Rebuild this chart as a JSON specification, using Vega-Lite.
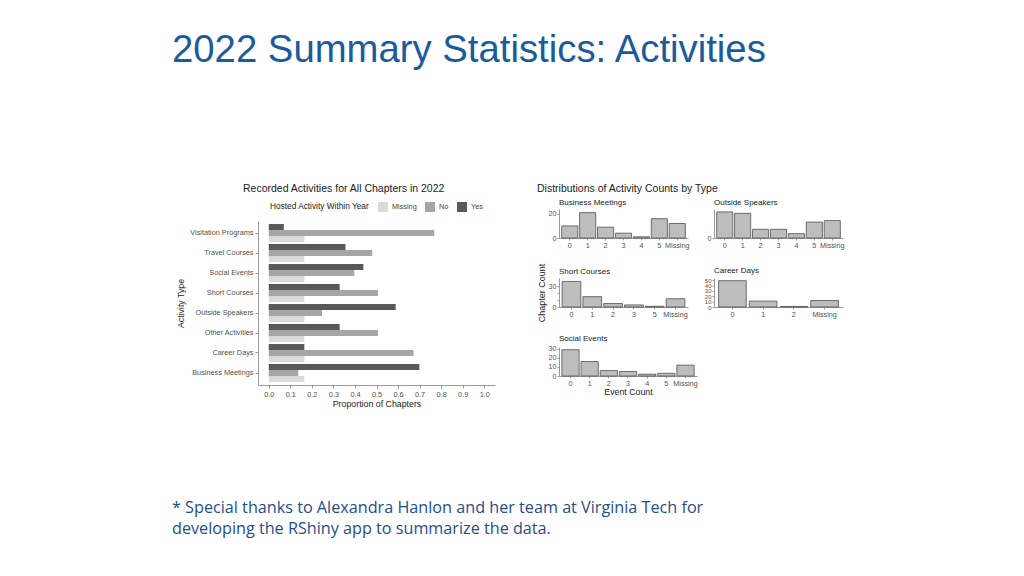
{
  "$schema": "https://vega.github.io/schema/vega-lite/v6.json",
  "background": "white",
  "padding": {"left": 172, "top": 31, "right": 5, "bottom": 5},
  "title": {"text": "2022 Summary Statistics: Activities", "anchor": "start", "frame": "bounds", "fontSize": 38.3, "fontWeight": "normal", "font": "Liberation Sans", "color": "#1a5b9c", "offset": 113},
  "datasets": {
    "props": [
      {"activity": "Visitation Programs", "response": "Yes", "proportion": 0.070},
      {"activity": "Visitation Programs", "response": "No", "proportion": 0.768},
      {"activity": "Visitation Programs", "response": "Missing", "proportion": 0.165},
      {"activity": "Travel Courses", "response": "Yes", "proportion": 0.356},
      {"activity": "Travel Courses", "response": "No", "proportion": 0.480},
      {"activity": "Travel Courses", "response": "Missing", "proportion": 0.165},
      {"activity": "Social Events", "response": "Yes", "proportion": 0.439},
      {"activity": "Social Events", "response": "No", "proportion": 0.397},
      {"activity": "Social Events", "response": "Missing", "proportion": 0.165},
      {"activity": "Short Courses", "response": "Yes", "proportion": 0.329},
      {"activity": "Short Courses", "response": "No", "proportion": 0.507},
      {"activity": "Short Courses", "response": "Missing", "proportion": 0.165},
      {"activity": "Outside Speakers", "response": "Yes", "proportion": 0.589},
      {"activity": "Outside Speakers", "response": "No", "proportion": 0.247},
      {"activity": "Outside Speakers", "response": "Missing", "proportion": 0.165},
      {"activity": "Other Activities", "response": "Yes", "proportion": 0.329},
      {"activity": "Other Activities", "response": "No", "proportion": 0.507},
      {"activity": "Other Activities", "response": "Missing", "proportion": 0.165},
      {"activity": "Career Days", "response": "Yes", "proportion": 0.165},
      {"activity": "Career Days", "response": "No", "proportion": 0.672},
      {"activity": "Career Days", "response": "Missing", "proportion": 0.165},
      {"activity": "Business Meetings", "response": "Yes", "proportion": 0.699},
      {"activity": "Business Meetings", "response": "No", "proportion": 0.137},
      {"activity": "Business Meetings", "response": "Missing", "proportion": 0.165}
    ],
    "hist": [
      {"activity": "Business Meetings", "count": "0", "chapters": 10},
      {"activity": "Business Meetings", "count": "1", "chapters": 21},
      {"activity": "Business Meetings", "count": "2", "chapters": 9},
      {"activity": "Business Meetings", "count": "3", "chapters": 4},
      {"activity": "Business Meetings", "count": "4", "chapters": 1},
      {"activity": "Business Meetings", "count": "5", "chapters": 16},
      {"activity": "Business Meetings", "count": "Missing", "chapters": 12},
      {"activity": "Outside Speakers", "count": "0", "chapters": 18},
      {"activity": "Outside Speakers", "count": "1", "chapters": 17},
      {"activity": "Outside Speakers", "count": "2", "chapters": 6},
      {"activity": "Outside Speakers", "count": "3", "chapters": 6},
      {"activity": "Outside Speakers", "count": "4", "chapters": 3},
      {"activity": "Outside Speakers", "count": "5", "chapters": 11},
      {"activity": "Outside Speakers", "count": "Missing", "chapters": 12},
      {"activity": "Short Courses", "count": "0", "chapters": 37},
      {"activity": "Short Courses", "count": "1", "chapters": 15},
      {"activity": "Short Courses", "count": "2", "chapters": 5},
      {"activity": "Short Courses", "count": "3", "chapters": 3},
      {"activity": "Short Courses", "count": "5", "chapters": 1},
      {"activity": "Short Courses", "count": "Missing", "chapters": 12},
      {"activity": "Career Days", "count": "0", "chapters": 49},
      {"activity": "Career Days", "count": "1", "chapters": 11},
      {"activity": "Career Days", "count": "2", "chapters": 1},
      {"activity": "Career Days", "count": "Missing", "chapters": 12},
      {"activity": "Social Events", "count": "0", "chapters": 29},
      {"activity": "Social Events", "count": "1", "chapters": 16},
      {"activity": "Social Events", "count": "2", "chapters": 6},
      {"activity": "Social Events", "count": "3", "chapters": 5},
      {"activity": "Social Events", "count": "4", "chapters": 2},
      {"activity": "Social Events", "count": "5", "chapters": 3},
      {"activity": "Social Events", "count": "Missing", "chapters": 12}
    ]
  },
  "columns": 1,
  "spacing": 88,
  "concat": [
    {
      "columns": 2,
      "spacing": 42,
      "concat": [
        {
          "columns": 1,
          "spacing": 11,
          "concat": [
            {
              "width": 237,
              "height": 1,
              "data": {"name": "props"},
              "transform": [{"filter": "false"}],
              "title": {"text": "Recorded Activities for All Chapters in 2022", "anchor": "start", "frame": "bounds", "dx": -15, "fontSize": 10.5, "fontWeight": "normal", "color": "#1a1a1a", "offset": 15},
              "mark": {"type": "bar"},
              "encoding": {
                "color": {
                  "field": "response", "type": "nominal",
                  "scale": {"domain": ["Missing", "No", "Yes"], "range": ["#d9d9d9", "#a6a6a6", "#595959"]},
                  "legend": {"title": "Hosted Activity Within Year", "orient": "none", "legendX": 12, "legendY": -7, "direction": "horizontal", "titleOrient": "left", "titleFontSize": 8.3, "titleFontWeight": "normal", "titleColor": "#222222", "labelFontSize": 7.3, "labelColor": "#444444", "symbolType": "square", "symbolSize": 100, "symbolStrokeWidth": 0, "columnPadding": 8, "titlePadding": 8}
                }
              }
            },
            {
              "width": 237,
              "height": 164,
              "data": {"name": "props"},
              "mark": {"type": "bar"},
              "encoding": {
                "y": {"field": "activity", "type": "nominal", "sort": ["Visitation Programs", "Travel Courses", "Social Events", "Short Courses", "Outside Speakers", "Other Activities", "Career Days", "Business Meetings"], "scale": {"paddingInner": 0.1, "paddingOuter": 0.15}, "axis": {"title": "Activity Type", "titlePadding": 4, "labelFontSize": 7.3}},
                "yOffset": {"field": "response", "type": "nominal", "sort": ["Yes", "No", "Missing"]},
                "x": {"field": "proportion", "type": "quantitative", "scale": {"domain": [-0.05, 1.05], "nice": false, "zero": false}, "axis": {"title": "Proportion of Chapters", "values": [0, 0.1, 0.2, 0.3, 0.4, 0.5, 0.6, 0.7, 0.8, 0.9, 1.0], "format": ".1f", "titlePadding": 2, "labelFontSize": 7.3}},
                "x2": {"datum": 0},
                "color": {
                  "field": "response", "type": "nominal",
                  "scale": {"domain": ["Missing", "No", "Yes"], "range": ["#d9d9d9", "#a6a6a6", "#595959"]},
                  "legend": null
                }
              }
            }
          ]
        },
        {
          "title": {"text": "Distributions of Activity Counts by Type", "anchor": "start", "frame": "bounds", "fontSize": 10.5, "fontWeight": "normal", "color": "#1a1a1a", "offset": 5},
          "columns": 2,
          "bounds": "flush",
          "spacing": {"row": 40, "column": 17},
          "concat": [
            {
              "width": 129, "height": 29,
              "data": {"name": "hist"},
              "transform": [{"filter": "datum.activity === 'Business Meetings'"}],
              "title": {"text": "Business Meetings", "anchor": "start", "frame": "group", "fontSize": 8, "fontWeight": "normal", "color": "#222222", "offset": 2},
              "mark": {"type": "bar", "fill": "#bdbdbd", "stroke": "#505050", "strokeWidth": 0.8},
              "encoding": {
                "x": {"field": "count", "type": "nominal", "sort": ["0", "1", "2", "3", "4", "5", "Missing"], "scale": {"paddingInner": 0.1, "paddingOuter": 0.15}, "axis": {"title": null, "labelAngle": 0, "labelFontSize": 7.2, "tickSize": 2, "labelPadding": 1}},
                "y": {"field": "chapters", "type": "quantitative", "scale": {"domain": [0, 24], "nice": false}, "axis": {"title": null, "values": [0, 20], "labelFontSize": 7.2, "tickSize": 2, "labelPadding": 1}}
              }
            },
            {
              "width": 129, "height": 29,
              "data": {"name": "hist"},
              "transform": [{"filter": "datum.activity === 'Outside Speakers'"}],
              "title": {"text": "Outside Speakers", "anchor": "start", "frame": "group", "fontSize": 8, "fontWeight": "normal", "color": "#222222", "offset": 2},
              "mark": {"type": "bar", "fill": "#bdbdbd", "stroke": "#505050", "strokeWidth": 0.8},
              "encoding": {
                "x": {"field": "count", "type": "nominal", "sort": ["0", "1", "2", "3", "4", "5", "Missing"], "scale": {"paddingInner": 0.1, "paddingOuter": 0.15}, "axis": {"title": null, "labelAngle": 0, "labelFontSize": 7.2, "tickSize": 2, "labelPadding": 1}},
                "y": {"field": "chapters", "type": "quantitative", "scale": {"domain": [0, 20], "nice": false}, "axis": {"title": null, "values": [0], "labelFontSize": 7.2, "tickSize": 2, "labelPadding": 1}}
              }
            },
            {
              "width": 129, "height": 29,
              "data": {"name": "hist"},
              "transform": [{"filter": "datum.activity === 'Short Courses'"}],
              "title": {"text": "Short Courses", "anchor": "start", "frame": "group", "fontSize": 8, "fontWeight": "normal", "color": "#222222", "offset": 2, "dy": 15},
              "mark": {"type": "bar", "fill": "#bdbdbd", "stroke": "#505050", "strokeWidth": 0.8},
              "encoding": {
                "x": {"field": "count", "type": "nominal", "sort": ["0", "1", "2", "3", "4", "5", "Missing"], "scale": {"paddingInner": 0.1, "paddingOuter": 0.15}, "axis": {"title": null, "labelAngle": 0, "labelFontSize": 7.2, "tickSize": 2, "labelPadding": 1}},
                "y": {"field": "chapters", "type": "quantitative", "scale": {"domain": [0, 42], "nice": false}, "axis": {"title": "Chapter Count", "titleFontSize": 9, "titlePadding": 2, "values": [0, 10, 20, 30], "labelFontSize": 7.2, "tickSize": 2, "labelPadding": 1}}
              }
            },
            {
              "width": 129, "height": 29,
              "data": {"name": "hist"},
              "transform": [{"filter": "datum.activity === 'Career Days'"}],
              "title": {"text": "Career Days", "anchor": "start", "frame": "group", "fontSize": 8, "fontWeight": "normal", "color": "#222222", "offset": 2},
              "mark": {"type": "bar", "fill": "#bdbdbd", "stroke": "#505050", "strokeWidth": 0.8},
              "encoding": {
                "x": {"field": "count", "type": "nominal", "sort": ["0", "1", "2", "3", "4", "5", "Missing"], "scale": {"paddingInner": 0.1, "paddingOuter": 0.15}, "axis": {"title": null, "labelAngle": 0, "labelFontSize": 7.2, "tickSize": 2, "labelPadding": 1}},
                "y": {"field": "chapters", "type": "quantitative", "scale": {"domain": [0, 54], "nice": false}, "axis": {"title": null, "values": [0, 10, 20, 30, 40, 50], "labelOverlap": false, "labelFontSize": 6, "tickSize": 2, "labelPadding": 1}}
              }
            },
            {
              "width": 138, "height": 29,
              "data": {"name": "hist"},
              "transform": [{"filter": "datum.activity === 'Social Events'"}],
              "title": {"text": "Social Events", "anchor": "start", "frame": "group", "fontSize": 8, "fontWeight": "normal", "color": "#222222", "offset": 2},
              "mark": {"type": "bar", "fill": "#bdbdbd", "stroke": "#505050", "strokeWidth": 0.8},
              "encoding": {
                "x": {"field": "count", "type": "nominal", "sort": ["0", "1", "2", "3", "4", "5", "Missing"], "scale": {"paddingInner": 0.1, "paddingOuter": 0.15}, "axis": {"title": "Event Count", "titleFontSize": 8.8, "titlePadding": 1, "labelAngle": 0, "labelFontSize": 7.2, "tickSize": 2, "labelPadding": 1}},
                "y": {"field": "chapters", "type": "quantitative", "scale": {"domain": [0, 32], "nice": false}, "axis": {"title": null, "values": [0, 10, 20, 30], "labelFontSize": 7.2, "tickSize": 2, "labelPadding": 1}}
              }
            }
          ]
        }
      ]
    },
    {
      "width": 560,
      "height": 42,
      "data": {"values": [
        {"line": 1, "text": "* Special thanks to Alexandra Hanlon and her team at Virginia Tech for"},
        {"line": 2, "text": "developing the RShiny app to summarize the data."}
      ]},
      "mark": {"type": "text", "align": "left", "baseline": "middle", "font": "Open Sans", "fontSize": 16.2, "color": "#1f4e8c", "dx": -86},
      "encoding": {
        "x": {"value": 0},
        "y": {"field": "line", "type": "ordinal", "axis": null},
        "text": {"field": "text"}
      }
    }
  ],
  "config": {
    "view": {"stroke": null},
    "font": "Liberation Sans",
    "axis": {"labelFont": "Liberation Sans", "titleFont": "Liberation Sans", "labelColor": "#505050", "titleColor": "#1a1a1a", "titleFontWeight": "normal", "domainColor": "#9a9a9a", "tickColor": "#9a9a9a", "grid": false, "labelFontSize": 7, "titleFontSize": 8.8, "tickSize": 3, "labelPadding": 2, "titlePadding": 3},
    "legend": {"labelFont": "Liberation Sans", "titleFont": "Liberation Sans"},
    "title": {"font": "Liberation Sans", "fontWeight": "normal"}
  }
}
